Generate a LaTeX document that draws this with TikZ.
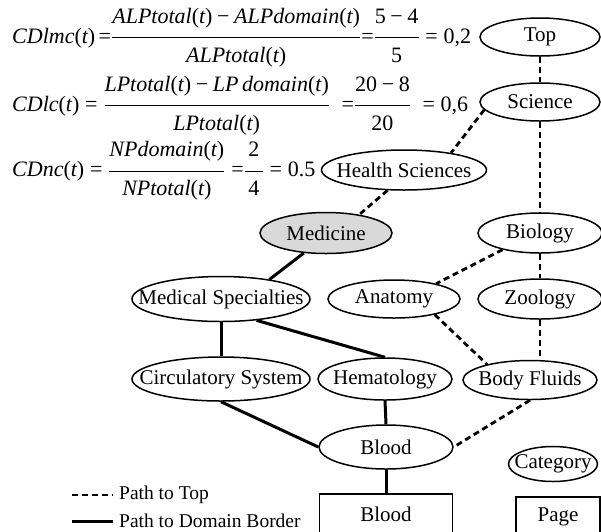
\documentclass[tikz,border=0pt]{standalone}
\usepackage{amsmath}
\usepackage{fontspec}
\setmainfont{Liberation Serif}
\usetikzlibrary{shapes.geometric}

% italic function name applied to (t)
\newcommand\fnt[1]{\textit{#1}\textup{(}\textit{t}\textup{)}}
% upright numbers and operators in the text face
\newcommand\nm[1]{\textup{#1}}
\newcommand\mminus{\mathbin{\textup{−}}}
\newcommand\meq{\mathrel{\textup{=}}}
% fraction with a little more air around the bar
\newcommand\wfrac[2]{\dfrac{\raisebox{5.5pt}{$\displaystyle #1$}}{\raisebox{-5pt}{$\displaystyle #2$}}}
% label whose width does not size the surrounding shape
\newcommand\lbl[1]{\makebox[0pt]{#1}}

\begin{document}
\begin{tikzpicture}[x=1pt,y=-1pt,
  every node/.style={font=\fontsize{21}{25}\selectfont},
  cat/.style={ellipse, draw, line width=1.5pt, inner sep=0pt},
  pg/.style={rectangle, draw, line width=1.5pt, inner sep=0pt},
  totop/.style={line width=2.8pt, dash pattern=on 6pt off 4pt},
  toborder/.style={line width=3pt},
  formula/.style={anchor=base west, inner sep=0pt, font=\fontsize{22}{26}\selectfont}]
\useasboundingbox (0,0) rectangle (601,531);

% formulas
\node[formula] (f1) at (12,43)
  {$\fnt{CDlmc}\,{\meq}\wfrac{\fnt{ALPtotal}\mminus\fnt{ALPdomain}}{\fnt{ALPtotal}}{\meq}\wfrac{\nm{5}\mminus\nm{4}}{\nm{5}}\meq\nm{0,2}$};
\node[formula] (f2) at (12,111)
  {$\fnt{CDlc}\meq\wfrac{\fnt{LPtotal}\mminus\textit{LP}\,\fnt{domain}}{\fnt{LPtotal}}\;\;{\meq}\wfrac{\nm{20}\mminus\nm{8}}{\nm{20}}\;\meq\nm{0,6}$};
\node[formula] (f3) at (12,176.5)
  {$\fnt{CDnc}\meq\wfrac{\fnt{NPdomain}}{\fnt{NPtotal}}\;{\meq}\wfrac{\,\nm{2}\,}{\,\nm{4}\,}\meq\nm{0.5}$};

% category graph
\node[cat, minimum width=120pt, minimum height=38pt] (top) at (540,37) {\lbl{Top}};
\node[cat, minimum width=120pt, minimum height=38pt] (sci) at (540,102) {\lbl{Science}};
\node[cat, minimum width=165pt, minimum height=40pt] (hs) at (404,170) {\lbl{Health Sciences}};
\node[cat, minimum width=132pt, minimum height=41pt, fill=gray!30] (med) at (326,233) {\lbl{Medicine}};
\node[cat, minimum width=124pt, minimum height=40pt] (bio) at (540,233) {\lbl{Biology}};
\node[cat, minimum width=178pt, minimum height=45pt] (ms) at (221,299) {\lbl{Medical Specialties}};
\node[cat, minimum width=132pt, minimum height=38pt] (ana) at (394,299) {\lbl{Anatomy}};
\node[cat, minimum width=124pt, minimum height=40pt] (zoo) at (540,299) {\lbl{Zoology}};
\node[cat, minimum width=178pt, minimum height=44pt] (cs) at (221,379) {\lbl{Circulatory System}};
\node[cat, minimum width=134pt, minimum height=42pt] (hem) at (385,379) {\lbl{Hematology}};
\node[cat, minimum width=134pt, minimum height=39pt] (bf) at (530,380) {\lbl{Body Fluids}};
\node[cat, minimum width=134pt, minimum height=44pt] (blood) at (386,447) {\lbl{Blood}};
\node[cat, minimum width=89pt, minimum height=35pt] (category) at (553,464) {\lbl{Category}};
\node[pg, minimum width=133pt, minimum height=40pt] (bloodp) at (386,514) {\lbl{Blood}};
\node[pg, minimum width=84pt, minimum height=40pt] (page) at (558,517) {\lbl{Page}};

% paths to the top category
\draw[totop] (top.south) -- (sci.north);
\draw[totop] (sci.188) -- (hs.20);
\draw[totop] (hs.-129) -- (med.29);
\draw[totop] (sci.south) -- (bio.north);
\draw[totop] (bio.204) -- (ana.20);
\draw[totop] (bio.south) -- (zoo.north);
\draw[totop] (ana.-21) -- (bf.160);
\draw[totop] (zoo.south) -- (zoo.south |- bf.north);
\draw[totop] (bf.south) -- (blood.east);

% paths to the domain border
\draw[toborder] (med.-138) -- (ms.22);
\draw[toborder] (ms.south) -- (cs.north);
\draw[toborder] (ms.-31) -- (hem.north);
\draw[toborder] (hem.south) -- (blood.north);
\draw[toborder] (cs.south) -- (blood.west);
\draw[toborder] (blood.south) -- (bloodp.north);

% legend
\coordinate (la1) at (72,495);
\coordinate (lb1) at (113,495);
\coordinate (la2) at (72,521);
\coordinate (lb2) at (113,521);
\draw[totop] (la1) -- (lb1);
\draw[toborder] (la2) -- (lb2);
\node[anchor=west, inner sep=0pt, font=\fontsize{19.5}{23}\selectfont] (lt1) at (119,495) {Path to Top};
\node[anchor=west, inner sep=0pt, font=\fontsize{19.5}{23}\selectfont] (lt2) at (119,521) {Path to Domain Border};
\end{tikzpicture}
\end{document}
